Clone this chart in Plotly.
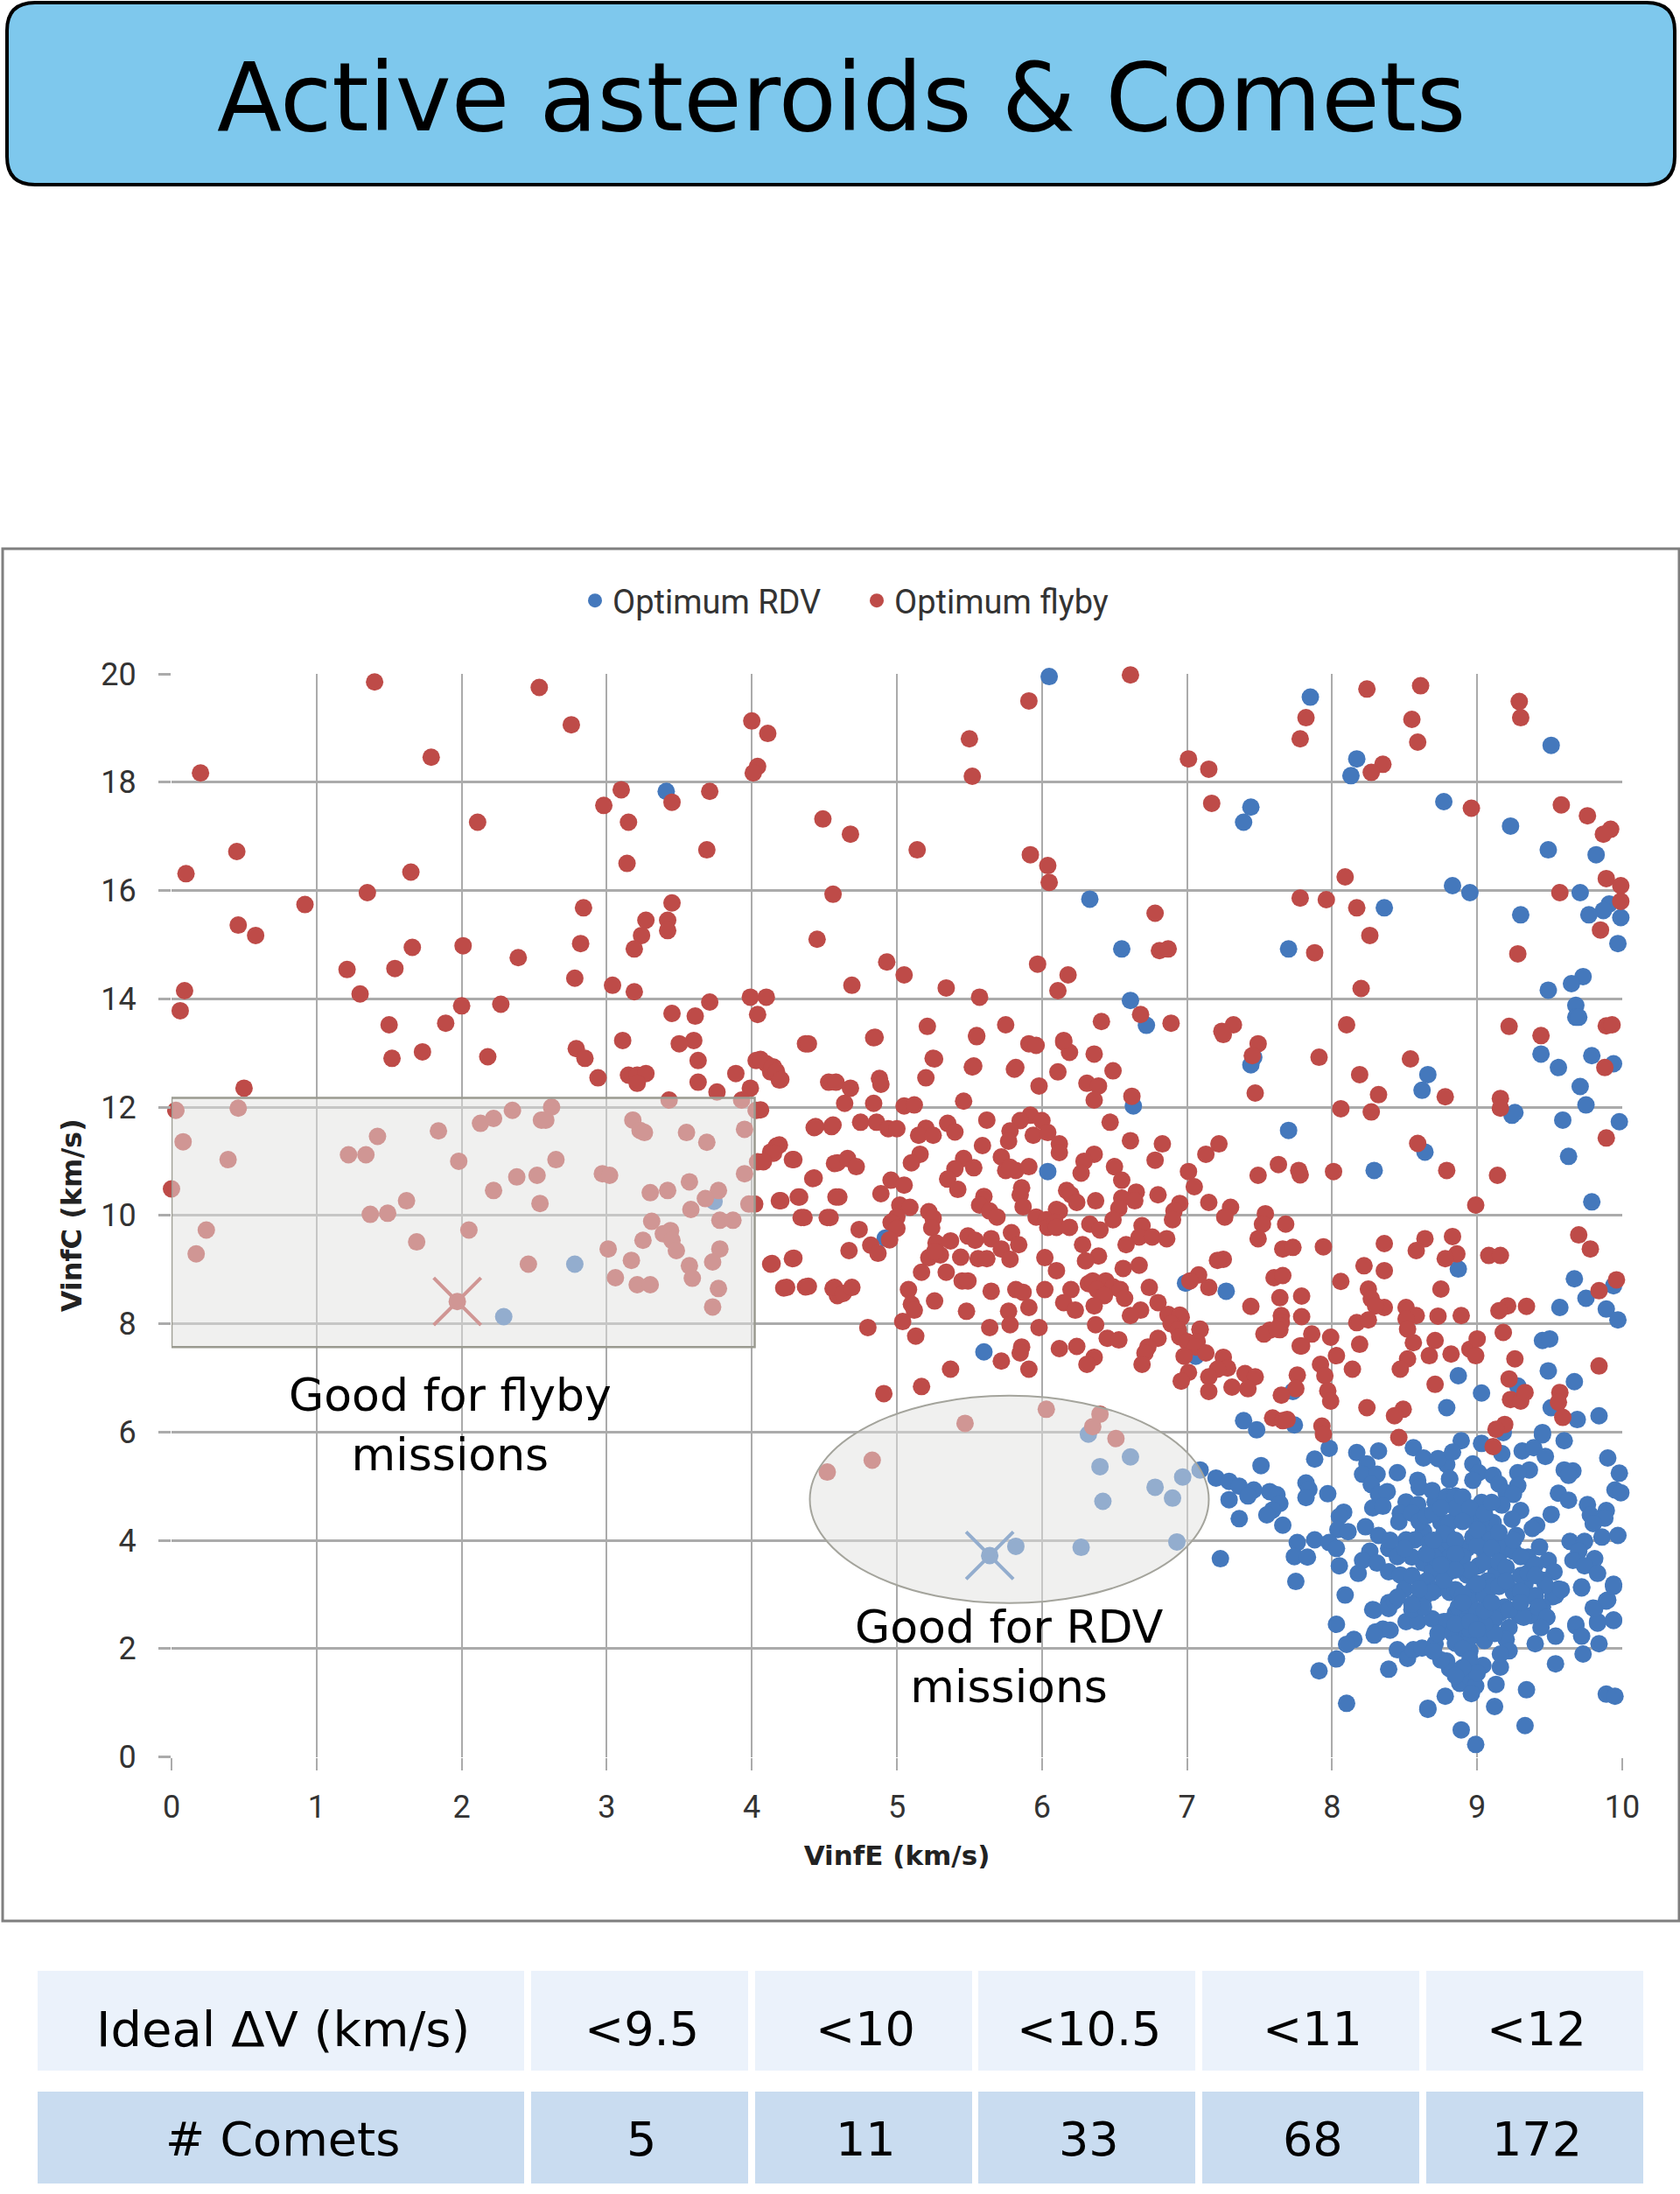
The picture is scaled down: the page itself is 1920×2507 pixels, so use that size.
import plotly.graph_objects as go

W, H = 1920, 2507
page_title = "Active asteroids & Comets"
x_ticks = [0, 1, 2, 3, 4, 5, 6, 7, 8, 9, 10]
y_ticks = [0, 2, 4, 6, 8, 10, 12, 14, 16, 18, 20]
table_row1 = ["Ideal ΔV (km/s)", "<9.5", "<10", "<10.5", "<11", "<12"]
table_row2 = ["# Comets", "5", "11", "33", "68", "172"]

best_flyby = (1.97, 8.41)
best_rdv = (5.64, 3.72)

rdv_points = [
(6.05,19.95),(7.85,19.57),(3.41,17.83),(9.51,18.68),(8.17,18.43),(8.13,18.12),(7.44,17.54),(7.39,17.26),(8.77,17.64),(9.23,17.19),
(9.49,16.75),(9.82,16.66),(8.83,16.09),(8.95,15.96),(9.71,15.96),(6.33,15.84),(8.36,15.68),(9.30,15.55),(9.91,15.75),(9.87,15.63),
(9.77,15.55),(9.99,15.5),(9.97,15.02),(6.55,14.92),(7.70,14.92),(9.73,14.41),(9.65,14.28),(9.49,14.16),(6.61,13.97),(6.72,13.51),
(7.46,12.92),(7.44,12.78),(9.68,13.88),(9.68,13.66),(9.70,13.66),(9.44,12.98),(9.79,12.95),(9.56,12.73),(9.94,12.8),(8.66,12.6),
(8.62,12.31),(9.24,11.85),(9.26,11.9),(9.71,12.38),(9.75,12.04),(9.59,11.76),(9.98,11.73),(8.64,11.17),(9.63,11.09),(8.29,10.83),
(7.70,11.57),(6.63,12.02),(9.79,10.25),(6.04,10.81),(4.92,9.58),(8.87,9.01),(9.57,8.3),(9.75,8.47),(9.67,8.83),(9.94,8.7),
(9.89,8.27),(9.97,8.07),(6.99,8.75),(7.27,8.6),(7.06,7.4),(5.6,7.48),(7.73,6.75),(7.39,6.21),(7.48,6.04),(7.74,6.13),
(8.87,7.04),(9.03,6.72),(9.28,6.85),(8.79,6.45),(9.45,7.69),(9.5,7.72),(9.49,7.13),(9.67,6.93),(9.51,6.45),(9.69,6.23),
(9.84,6.3),(9.18,5.99),(9.45,5.99),(2.78,9.1),(2.29,8.13),(3.74,10.26),
(6.32,5.96),(6.61,5.54),(6.4,5.36),(6.97,5.17),(7.09,5.3),(6.78,4.98),(6.9,4.78),(6.42,4.72),(6.93,3.97),(5.82,3.89),(6.27,3.87),
(7.2,5.15),(7.29,5.09),(7.36,5.0),(7.46,4.93),(7.42,4.82),(7.29,4.75),(7.57,4.9),(7.62,4.84),(7.64,4.68),(7.59,4.56),(7.55,4.47),
(7.51,5.38),(7.36,4.4),(7.66,4.28),(7.23,3.66),(7.82,5.06),(7.84,4.94),(7.97,4.86),(7.82,4.79),(7.88,5.5),(7.98,5.7),(7.75,3.24),
(8.17,5.62),(8.32,5.65),(8.24,5.41),(8.21,5.22),(8.31,5.22),(8.27,5.03),(8.32,4.85),(8.38,4.9),(8.28,4.6),(8.35,4.63),(8.45,5.25),
(8.56,5.71),(8.63,5.52),(8.59,5.11),(8.6,4.98),(8.08,4.52),(8.05,4.44),(8.04,4.2),(8.11,4.16),(8.23,4.25),(8.32,4.09),
(7.76,3.96),(7.88,4.01),(7.98,3.96),(8.03,3.85),(7.74,3.7),(7.83,3.69),(8.05,3.53),(8.18,3.39),(8.09,2.99),(8.03,2.45),
(8.26,3.8),(8.21,3.63),(8.31,3.58),(8.39,3.85),(8.39,3.42),(8.47,3.36),(8.28,2.72),(8.39,2.85),(8.5,3.1),(8.59,2.88),
(8.51,4.71),(8.59,4.66),(8.47,4.5),(8.46,4.34),(8.55,4.5),(8.71,4.71),(8.69,4.92),(8.79,4.81),(8.79,5.4),(8.73,5.51),(8.81,5.12),
(8.63,4.17),(8.57,4.01),(8.67,3.96),(8.75,4.33),(8.51,4.01),(8.75,3.8),(8.63,3.58),(8.55,3.69),(8.69,3.42),(8.79,4.12),(8.65,3.25),
(8.71,3.09),(8.63,2.93),(8.81,3.04),(8.51,2.5),(8.59,2.5),(8.77,2.5),(8.55,2.72),(8.69,2.55),
(9.6,5.84),(9.45,5.95),(9.31,5.65),(9.39,5.71),(9.47,5.55),(9.17,5.6),(9.03,5.79),(8.89,5.84),(8.83,5.63),(9.9,5.52),(9.98,5.24),
(9.36,5.3),(9.28,5.25),(9.6,5.3),(9.66,5.28),(9.63,5.2),(9.95,4.93),(9.99,4.88),(9.56,4.87),(9.63,4.74),(9.76,4.66),(9.78,4.47),
(9.89,4.55),(9.88,4.41),(9.8,4.31),(9.86,4.06),(9.97,4.09),(9.51,4.48),(9.41,4.28),(9.38,4.22),(9.64,3.98),(9.74,3.98),(9.43,3.88),
(9.7,3.8),(9.66,3.63),(9.81,3.66),(9.74,3.53),(9.83,3.39),(9.72,3.14),(9.94,3.19),(9.89,2.88),(9.8,2.75),(9.83,2.5),(9.94,2.53),(9.68,2.45),
(9.35,3.69),(9.49,3.63),(9.53,3.42),(9.46,3.26),(9.56,3.1),(9.52,2.96),(9.25,3.07),(9.33,3.2),(9.39,2.96),(9.45,2.77),(9.48,2.58),
(9.19,2.77),(9.11,2.58),(9.29,2.61),(9.37,2.61),
(8.97,5.41),(9.01,5.25),(8.97,5.11),(9.11,5.2),(9.15,5.04),(9.2,4.88),(9.28,5.01),(9.25,4.85),(8.85,4.82),(8.81,5.14),(9.03,4.7),
(9.17,4.65),(9.3,4.55),(9.24,4.39),(9.27,4.09),(9.11,4.33),(9.07,4.12),(8.89,4.49),(8.81,4.33),(8.81,3.96),(8.93,3.85),(9.05,3.8),
(9.17,3.8),(8.89,3.58),(8.81,3.42),(9.01,3.53),(9.13,3.42),(9.19,3.9),(9.09,4.01),(8.97,4.06),(8.85,3.09),(8.97,3.09),(9.05,3.04),
(8.93,3.36),(9.07,3.25),(8.95,2.77),(8.85,2.66),(8.91,2.55),(8.81,3.69),(8.77,3.26),(8.77,4.12),(8.97,4.38),(9.03,4.38),
(8.15,2.17),(8.1,2.08),(8.03,1.81),(7.91,1.59),(8.1,0.99),(8.39,1.62),(8.29,2.71),(8.39,2.74),(8.43,2.88),
(8.3,2.31),(8.35,2.36),(8.4,2.34),(8.29,2.25),(8.45,1.98),(8.52,1.82),(8.56,1.98),(8.62,2.01),(8.71,2.09),(8.63,2.77),(8.69,3.04),(8.55,2.82),
(8.79,2.5),(8.73,2.28),(8.83,2.28),(8.93,2.28),(8.79,1.77),(8.81,1.63),(8.75,1.79),(8.87,2.77),(8.95,2.88),(9.05,2.98),(8.87,3.04),(8.95,2.61),(8.91,2.5),
(8.95,1.96),(9.05,2.15),(8.94,2.17),(8.88,1.36),(8.95,1.47),(9.04,1.69),(8.99,1.31),(8.96,1.17),(8.78,1.12),(9.13,1.34),(9.16,1.66),
(8.66,0.9),(8.66,0.88),(9.12,0.93),(9.34,1.24),(9.33,0.58),(8.89,0.5),(8.99,0.23),(9.54,1.72),(9.73,1.9),(9.84,2.09),(9.89,1.16),(9.95,1.12),
(9.68,2.42),(9.72,2.23),(9.83,2.47),(9.94,2.52),(9.81,2.74),(9.9,2.9),(9.94,3.15),(9.72,3.12),(9.54,2.98),(9.58,3.09),(9.47,3.17),(9.4,2.98),
(9.42,2.77),(9.48,2.58),(9.44,2.39),(9.54,2.23),(9.4,2.09),(9.32,2.58),(9.25,3.04),(9.16,2.66),(9.22,2.71),(9.12,2.55),(9.22,2.39),(9.2,2.17),
(9.22,1.96),(9.12,2.28),(9.16,1.9),
(8.85,4.0),(8.9,3.7),(8.95,3.45),(9.0,3.9),(9.05,3.6),(9.1,3.15),(9.0,3.2),(8.9,3.0),(9.0,2.7),(9.05,2.45),(8.95,2.35),(8.85,2.45),(9.0,4.2),
(8.85,4.6),(8.9,4.8),(8.95,4.6),(9.05,4.5),(9.1,4.7),(8.9,4.35),(9.15,4.15),(8.85,3.75),(9.1,3.85),(9.15,3.6),(9.2,3.5),(8.85,3.45),
(9.15,3.15),(9.2,3.25),(8.7,3.7),(8.75,3.55),(8.65,3.75),(8.7,4.0),(8.6,4.35),(8.65,4.45),(8.7,4.5),(8.75,4.6),(9.25,3.8),(9.3,3.7),(9.25,4.0),
(9.3,3.35),(8.9,2.85),(8.95,2.5),(9.0,2.35),(9.05,2.7),(9.1,2.85),(8.85,2.1),(8.9,2.0),(8.95,1.8),(9.0,1.55),(8.9,1.65),(8.85,1.5),(8.7,1.95),
(8.45,3.7),(8.5,3.85),(8.55,3.35),(8.6,3.1),(8.45,2.95),(9.3,3.05),(9.35,3.4),(9.4,3.55),(9.3,2.85),(9.4,3.35),(8.4,4.0),
]

flyby_points = [
(1.40,19.85),(2.535,19.75),(2.756,19.06),(4.0,19.13),(4.11,18.9),(1.79,18.46),(0.20,18.17),(4.04,18.29),(4.01,18.17),(3.10,17.86),
(3.45,17.63),(3.71,17.83),(2.98,17.57),(3.15,17.26),(2.11,17.26),(4.49,17.32),(0.45,16.72),(3.69,16.75),(3.14,16.5),(0.10,16.31),
(1.65,16.34),(1.35,15.96),(4.56,15.93),(0.92,15.74),(2.84,15.68),(3.45,15.77),(3.27,15.45),(3.42,15.45),(3.42,15.26),(0.46,15.36),
(0.58,15.17),(3.24,15.17),(4.45,15.10),(2.82,15.02),(2.01,14.98),(1.66,14.95),(3.19,14.92),(2.39,14.76),(1.21,14.54),(1.54,14.56),
(2.78,14.38),(3.04,14.25),(0.09,14.15),(1.30,14.09),(3.19,14.13),(3.99,14.03),(4.10,14.03),(3.71,13.94),(0.06,13.78),(2.0,13.87),
(2.27,13.9),(3.45,13.73),(3.61,13.68),(4.04,13.71),(1.50,13.52),(1.89,13.55),(3.11,13.23),(3.60,13.23),(3.50,13.17),(4.37,13.17),
(1.73,13.02),(1.52,12.9),(2.18,12.93),(2.79,13.08),(2.85,12.9),(3.63,12.86),(4.03,12.86),(4.1,12.8),(4.15,12.74),
(6.61,19.98),(5.91,19.5),(5.5,18.8),(5.52,18.11),(8.24,19.72),(8.61,19.78),(9.29,19.49),(9.30,19.19),(7.82,19.19),(8.55,19.16),
(7.78,18.8),(8.59,18.74),(7.01,18.43),(7.15,18.24),(8.35,18.33),(8.27,18.18),(7.17,17.61),(8.96,17.52),(9.58,17.58),(9.76,17.38),
(9.92,17.13),(9.87,17.04),(4.68,17.04),(5.14,16.75),(5.92,16.66),(6.04,16.46),(6.05,16.15),(8.09,16.25),(9.89,16.22),(9.99,16.09),
(9.57,15.96),(7.78,15.86),(7.96,15.83),(9.99,15.8),(8.17,15.68),(9.85,15.27),(6.78,15.58),(8.26,15.17),(6.81,14.89),(6.87,14.92),
(7.88,14.85),(9.28,14.83),(8.20,14.19),(4.93,14.68),(5.05,14.44),(4.69,14.25),(5.97,14.64),(6.18,14.44),(6.11,14.15),(5.34,14.2),
(5.57,14.03),(6.68,13.71),(6.41,13.58),(6.89,13.55),(5.21,13.49),(5.75,13.52),(4.85,13.29),(5.55,13.32),(7.32,13.52),(7.24,13.4),
(5.91,13.17),(5.96,13.14),(6.15,13.2),(6.19,13.01),(6.36,12.98),(7.49,13.17),(7.45,12.95),(7.91,12.92),(8.54,12.89),(8.10,13.52),
(9.22,13.49),(9.44,13.32),(9.89,13.5),(9.93,13.52),(9.88,12.73),(5.25,12.9),(5.53,12.76),(5.82,12.73),(6.11,12.65),(6.49,12.67),
(0.50,12.35),(2.94,12.54),(3.15,12.59),(3.21,12.59),(3.27,12.62),(3.21,12.44),(3.63,12.46),(3.76,12.28),(3.89,12.62),(3.99,12.35),
(3.93,12.13),(3.43,12.13),(4.13,12.65),(4.19,12.5),(4.03,11.94),
(0.03,11.94),(0.46,11.98),(0.08,11.36),(0.39,11.03),(0,10.49),(1.22,11.12),(1.34,11.12),(1.42,11.46),(1.84,11.56),(1.98,11.0),
(2.13,11.7),(2.22,11.79),(2.35,11.94),(2.62,12.0),(2.55,11.76),(2.58,11.76),(2.65,11.03),(2.38,10.71),(2.52,10.74),(2.22,10.46),
(2.54,10.22),(1.62,10.27),(1.37,10.02),(1.49,10.04),(2.05,9.73),(1.69,9.51),(0.24,9.73),(0.17,9.29),(2.46,9.1),
(2.97,10.77),(3.02,10.74),(3.18,11.76),(3.23,11.57),(3.26,11.53),(3.55,11.53),(3.69,11.35),(3.95,11.59),(3.95,10.77),(3.57,10.62),
(3.30,10.42),(3.42,10.46),(3.77,10.46),(3.68,10.31),(3.58,10.11),(3.98,10.21),(3.78,9.91),(3.87,9.91),(3.31,9.89),(3.44,9.72),
(3.39,9.66),(3.25,9.54),(3.45,9.54),(3.48,9.35),(3.01,9.38),(3.78,9.38),(3.17,9.17),(3.73,9.14),(3.57,9.07),(3.59,8.84),(3.06,8.85),
(3.21,8.72),(3.30,8.72),(3.77,8.65),(3.73,8.31),
(4.04,10.99),(4.13,11.17),(4.17,11.28),(4.28,11.03),(4.43,11.62),(4.55,11.64),(4.57,10.96),(4.42,10.68),(4.32,10.34),(4.19,10.27),
(4.58,10.34),(4.34,9.96),(4.52,9.96),(4.13,9.1),(4.28,9.2),(4.22,8.66),(4.37,8.68),(4.56,8.65),(4.59,8.52),(4.52,5.26),(4.83,5.48),
(4.39,13.17),(4.84,13.28),(5.26,12.89),(5.20,12.54),(5.55,13.3),(5.52,12.74),(5.81,12.70),(5.98,12.39),(4.06,12.88),(4.14,12.74),
(4.17,12.66),(4.2,12.51),(4.53,12.46),(4.58,12.46),(4.68,12.35),(4.64,12.07),(4.88,12.53),(4.89,12.42),(4.84,12.07),(4.06,11.95),
(5.05,12.02),(5.12,12.04),(5.46,12.11),(4.44,11.64),(4.56,11.67),(4.75,11.72),(4.86,11.72),(4.94,11.6),(5.0,11.6),(5.2,11.61),
(5.15,11.48),(5.25,11.48),(5.35,11.7),(5.4,11.54),(5.62,11.76),(5.59,11.29),(4.19,11.3),(4.15,11.15),(4.08,10.99),(4.29,11.03),
(4.43,10.69),(4.59,10.97),(4.66,11.05),(4.72,10.9),(5.16,11.13),(5.1,10.97),(4.96,10.65),(5.05,10.56),(4.89,10.4),(4.2,10.27),
(4.33,10.34),(4.6,10.34),(4.02,10.21),(4.36,9.96),(4.54,9.96),(5.02,10.19),(5.09,10.15),(5.0,9.97),(4.96,9.87),(5.0,9.76),
(4.95,9.55),(4.74,9.74),(4.82,9.45),(4.87,9.3),(4.67,9.35),(4.29,9.21),(4.14,9.11),(4.24,8.67),(4.39,8.69),(4.57,8.67),(4.63,8.56),
(4.69,8.67),(5.22,10.07),(5.25,9.95),(5.24,9.77),(5.27,9.49),(5.37,9.53),(5.22,9.22),(5.3,9.27),(5.17,8.95),(5.34,8.95),(5.26,9.33),
(5.44,9.23),(5.49,9.62),(5.54,9.54),(5.65,9.57),(5.72,9.38),(5.79,9.68),(5.84,9.46),(5.56,9.2),(5.62,9.2),(5.78,9.19),(5.45,8.79),
(5.49,8.79),(5.08,8.63),(5.1,8.36),(5.12,8.25),(5.26,8.42),(5.48,8.23),(5.65,8.6),(5.82,8.63),(5.87,8.58),(5.77,8.23),(5.91,8.3),
(5.04,8.04),(4.8,7.93),(5.64,7.93),(5.78,7.98),(5.98,7.93),(6.02,9.22),(6.02,8.63),
(5.92,11.85),(5.85,11.75),(5.78,11.56),(5.77,11.37),(6.0,11.75),(5.94,11.48),(6.04,11.53),(5.72,11.08),(5.75,10.83),(5.82,10.83),
(5.78,10.89),(5.91,10.9),(5.46,11.05),(5.4,10.86),(5.35,10.67),(5.53,10.88),(5.42,10.48),(5.86,10.51),(5.85,10.38),(5.87,10.16),
(5.6,10.35),(5.57,10.19),(5.64,10.08),(5.69,9.97),(5.96,9.97),(6.03,9.92),(6.04,9.78),
(6.15,13.23),(6.31,12.44),(6.39,12.39),(6.36,12.13),(6.62,12.2),(7.25,13.34),(7.47,12.26),(8.06,11.97),(6.47,11.72),(6.12,11.32),
(6.12,11.16),(6.61,11.38),(6.83,11.32),(6.78,11.02),(7.22,11.32),(7.13,11.13),(6.36,11.13),(6.29,11.0),(6.27,10.78),(6.5,10.9),
(6.55,10.65),(7.01,10.81),(7.05,10.53),(7.15,10.24),(7.49,10.74),(7.63,10.94),(7.77,10.83),(7.78,10.75),(8.01,10.81),(6.17,10.46),
(6.2,10.38),(6.24,10.24),(6.37,10.27),(6.65,10.43),(6.55,10.32),(6.64,10.27),(6.53,10.13),(6.49,9.92),(6.8,10.38),(6.95,10.22),
(6.91,10.08),(6.9,9.92),(7.3,10.15),(7.26,9.97),(7.54,10.03),(7.52,9.84),(7.49,9.57),(7.68,9.84),(7.66,9.38),(7.73,9.41),(7.94,9.42),
(6.1,10.11),(6.12,10.08),(6.09,9.87),(6.1,9.78),(6.19,9.78),(6.33,9.84),(6.4,9.73),(6.69,9.81),(6.67,9.6),(6.76,9.6),(6.86,9.57),
(6.58,9.46),(6.28,9.46),(6.39,9.25),(6.3,9.16),(6.1,8.98),(6.56,9.02),(6.67,9.08),(7.25,9.19),(7.21,9.17),(7.6,8.85),(7.66,8.89),
(7.08,8.9),(7.02,8.79),(7.15,8.67),(8.06,8.78),(7.64,8.48),(7.79,8.51),(7.44,8.32),(7.65,8.15),(7.79,8.13),(6.74,8.67),(6.2,8.63),
(6.32,8.74),(6.35,8.79),(6.44,8.79),(6.49,8.68),(6.54,8.63),(6.57,8.47),(6.38,8.63),(6.43,8.52),(6.15,8.39),(6.23,8.25),(6.36,8.33),
(6.68,8.25),(6.61,8.15),(6.8,8.39),(6.87,8.17),(6.96,8.12),(6.92,7.98),(6.37,7.98),(7.09,7.9),(7.65,8.03),(7.57,7.88),
(5.13,7.77),(5.37,7.16),(5.17,6.84),(4.91,6.71),(5.72,7.31),(5.91,7.16),(5.86,7.57),(5.85,7.46),(6.12,7.54),(6.24,7.58),(6.36,7.38),
(6.31,7.25),(6.45,7.73),(6.53,7.7),(6.8,7.73),(6.73,7.57),(6.71,7.46),(6.69,7.25),(6.87,8.16),(6.95,8.16),(6.89,8.0),(6.94,7.89),
(6.95,7.76),(7.0,7.67),(7.09,7.89),(7.07,7.67),(7.06,7.57),(7.13,7.46),(6.98,7.4),(7.25,7.38),(7.28,7.18),(7.21,7.16),(7.15,7.02),
(7.15,6.75),(7.01,7.1),(6.96,6.94),(7.4,7.08),(7.47,7.02),(7.42,6.8),(7.31,6.83),(7.76,7.05),(7.75,6.8),(7.65,6.68),(7.59,6.26),
(7.66,6.21),(7.69,6.23),(7.53,7.81),(7.64,7.89),(7.78,7.59),
(6.03,6.42),(5.47,6.16),(6.4,6.33),(6.35,6.1),(6.51,5.88),
(8.19,12.6),(8.32,12.23),(8.78,12.19),(8.27,11.91),(9.16,12.16),(9.16,11.98),(9.89,11.43),(8.59,11.33),(8.79,10.83),(9.14,10.74),
(8.99,10.19),(9.7,9.64),(9.78,9.38),(8.36,9.48),(8.64,9.57),(8.58,9.35),(8.83,9.61),(8.86,9.29),(8.78,9.2),(9.08,9.26),(9.16,9.26),
(8.22,9.07),(8.36,8.98),(8.75,8.64),(8.25,8.64),(8.27,8.46),(8.36,8.3),(8.3,8.33),(8.51,8.3),(8.58,8.15),(8.51,8.09),(8.73,8.14),
(8.89,8.15),(8.52,7.9),(8.56,7.65),(9.34,8.32),(9.21,8.33),(9.15,8.24),(9.84,8.61),(9.96,8.81),(8.17,8.02),(8.25,8.07),(7.64,7.96),
(7.62,7.9),(7.86,7.81),(7.79,7.59),(7.99,7.75),(8.19,7.62),(8.03,7.41),(8.14,7.16),(7.92,7.25),(7.95,7.04),(7.97,6.76),(7.99,6.57),
(8.24,6.45),(8.49,6.42),(8.43,6.3),(7.93,6.11),(7.94,5.96),(8.46,5.9),(8.71,7.69),(8.67,7.41),(8.82,7.44),(8.95,7.53),(9.0,7.72),
(8.99,7.41),(9.18,7.84),(8.52,7.35),(8.47,7.16),(9.26,7.35),(9.84,7.22),(9.22,6.98),(9.23,6.6),(9.3,6.57),(9.33,6.73),(8.71,6.88),
(9.57,6.73),(9.56,6.55),(9.59,6.27),(9.19,6.14),(9.13,6.05),(9.11,5.73),
]


def px(x):
    return x / W


def py(y):
    return 1 - y / H


def rounded(x0, y0, x1, y1, r):
    a, b, c, d = px(x0), py(y0), px(x1), py(y1)
    rx, ry = r / W, r / H
    return (f"M{a+rx},{b} L{c-rx},{b} Q{c},{b} {c},{b-ry} L{c},{d+ry} Q{c},{d} {c-rx},{d} "
            f"L{a+rx},{d} Q{a},{d} {a},{d+ry} L{a},{b-ry} Q{a},{b} {a+rx},{b} Z")


RED = "#BE4B48"
BLUE = "#4478BC"
DOT = 20

fig = go.Figure()
for name, pts, color in [("Optimum RDV", rdv_points, BLUE), ("Optimum flyby", flyby_points, RED)]:
    fig.add_trace(go.Scatter(x=[p[0] for p in pts], y=[p[1] for p in pts], mode="markers", name=name,
                             cliponaxis=False, marker=dict(size=DOT, color=color)))
for pt, color in [(best_flyby, RED), (best_rdv, BLUE)]:
    fig.add_trace(go.Scatter(x=[pt[0]], y=[pt[1]], mode="markers", showlegend=False, cliponaxis=False,
                             marker=dict(symbol="x-thin", size=54, line=dict(width=4, color=color))))
    fig.add_trace(go.Scatter(x=[pt[0]], y=[pt[1]], mode="markers", showlegend=False, cliponaxis=False,
                             marker=dict(size=DOT, color=color)))

shapes = [
    dict(type="path", path=rounded(8, 3, 1914, 211, 32), xref="paper", yref="paper",
         fillcolor="#7EC8ED", line=dict(color="#000000", width=4), layer="below"),
    dict(type="rect", x0=px(3), x1=px(1919), y0=py(2195), y1=py(627), xref="paper", yref="paper",
         fillcolor="#FFFFFF", line=dict(color="#7F7F7F", width=3), layer="below"),
    dict(type="rect", x0=0, x1=4.02, y0=7.57, y1=12.17, xref="x", yref="y",
         fillcolor="rgba(225,225,223,0.5)", line=dict(color="#9A9A90", width=2.5), layer="above"),
    dict(type="circle", x0=4.40, x1=7.15, y0=2.84, y1=6.67, xref="x", yref="y",
         fillcolor="rgba(225,225,223,0.5)", line=dict(color="#A4A49C", width=2), layer="above"),
]

col_edges = [(43, 599), (607, 855), (863, 1111), (1118, 1366), (1374, 1622), (1630, 1878)]
annotations = [
    dict(text=page_title, x=px(961), y=py(111), xref="paper", yref="paper", showarrow=False,
         xanchor="center", yanchor="middle", font=dict(family="DejaVu Sans", size=108, color="#000000")),
    dict(text="Good for flyby<br>missions", x=(514 - 196) / 165.8, y=(2007.6 - 1628) / 61.89, xref="x", yref="y",
         showarrow=False, xanchor="center", yanchor="middle", font=dict(family="DejaVu Sans", size=52, color="#000000")),
    dict(text="Good for RDV<br>missions", x=(1153 - 196) / 165.8, y=(2007.6 - 1893) / 61.89, xref="x", yref="y",
         showarrow=False, xanchor="center", yanchor="middle", font=dict(family="DejaVu Sans", size=52, color="#000000")),
]
for i, ((x0, x1), t1, t2) in enumerate(zip(col_edges, table_row1, table_row2)):
    shapes.append(dict(type="rect", x0=px(x0), x1=px(x1), y0=py(2366), y1=py(2252), xref="paper", yref="paper",
                       fillcolor="#EBF2FB", line=dict(width=0), layer="below"))
    shapes.append(dict(type="rect", x0=px(x0), x1=px(x1), y0=py(2495), y1=py(2390), xref="paper", yref="paper",
                       fillcolor="#C9DCF0", line=dict(width=0), layer="below"))
    xc = (x0 + x1) / 2 + 2
    size1 = 56 if i == 0 else 54
    annotations.append(dict(text=t1, x=px(xc), y=py(2318), xref="paper", yref="paper", showarrow=False,
                            xanchor="center", yanchor="middle", font=dict(family="DejaVu Sans", size=size1, color="#000000")))
    annotations.append(dict(text=t2, x=px(xc), y=py(2444), xref="paper", yref="paper", showarrow=False,
                            xanchor="center", yanchor="middle", font=dict(family="DejaVu Sans", size=54, color="#000000")))

tick_font = dict(family="Roboto", size=36, color="#333333")
fig.update_layout(
    width=W, height=H, margin=dict(l=0, r=0, t=0, b=0, autoexpand=False),
    paper_bgcolor="#FFFFFF", plot_bgcolor="rgba(0,0,0,0)", shapes=shapes, annotations=annotations,
    legend=dict(orientation="h", x=px(660), y=py(655), xanchor="left", yanchor="top", entrywidth=277,
                entrywidthmode="pixels", font=dict(family="Roboto", size=38, color="#333333"),
                bgcolor="rgba(0,0,0,0)"),
    xaxis=dict(domain=[px(196), px(1854)], range=[0, 10], tickvals=x_ticks, showgrid=True, gridcolor="#ABABAB",
               gridwidth=2, zeroline=False, ticks="outside", ticklen=14, tickwidth=2, tickcolor="#ABABAB",
               tickfont=tick_font, ticklabelstandoff=11, automargin=False,
               title=dict(text="VinfE (km/s)", standoff=24, font=dict(family="DejaVu Sans", size=31, weight="bold", color="#222222"))),
    yaxis=dict(domain=[py(2007.6), py(770)], range=[0, 20], tickvals=y_ticks, showgrid=True, gridcolor="#ABABAB",
               gridwidth=3, zeroline=False, ticks="outside", ticklen=14, tickwidth=3, tickcolor="#ABABAB",
               tickfont=tick_font, ticklabelstandoff=18, automargin=False,
               title=dict(text="VinfC (km/s)", standoff=12, font=dict(family="DejaVu Sans", size=32, weight="bold", color="#222222"))),
)
fig.write_html("out.html", config={"displayModeBar": False}, post_script="document.body.style.margin='0';")
